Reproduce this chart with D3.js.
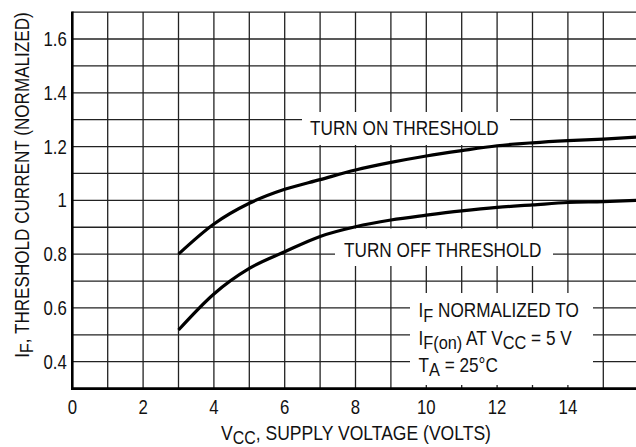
<!DOCTYPE html>
<html><head><meta charset="utf-8">
<script src="https://cdn.jsdelivr.net/npm/d3@7"></script>
<style>
html,body{margin:0;padding:0;background:#fff;}
svg{display:block;}
text{font-family:"Liberation Sans",Arial,Helvetica,sans-serif;fill:#111;}
</style></head>
<body>
<svg id="c" width="636" height="447"></svg>
<script>
// ---- data ----
const vcc     = [3, 4, 5, 6, 7, 8, 9, 10, 11, 12, 13, 14, 15, 16];
const turnOn  = [0.80, 0.912, 0.989, 1.041, 1.077, 1.113, 1.141, 1.165, 1.185, 1.203, 1.214, 1.222, 1.228, 1.236];
const turnOff = [0.518, 0.652, 0.747, 0.809, 0.866, 0.902, 0.927, 0.945, 0.961, 0.974, 0.983, 0.992, 0.995, 1.0];
const xTickLabels = [0, 2, 4, 6, 8, 10, 12, 14];
const yTickLabels = [0.4, 0.6, 0.8, 1.0, 1.2, 1.4, 1.6];
const xGrid = [1,2,3,4,5,6,7,8,9,10,11,12,13,14,15,16];
const yGrid = [0.4,0.5,0.6,0.7,0.8,0.9,1.0,1.1,1.2,1.3,1.4,1.5,1.6,1.7];

const svg = d3.select("#c");
const x = d3.scaleLinear().domain([0, 16]).range([72.3, 638.7]);
const y = d3.scaleLinear().domain([0.3, 1.7]).range([388.6, 12.1]);
const SX = 0.86; // condensed look

function txt(px, py, size, anchor, extra) {
  return svg.append("text")
    .attr("transform", `translate(${px},${py})${extra || ""} scale(${SX},1)`)
    .attr("text-anchor", anchor || "start")
    .attr("font-size", size);
}

const gridColor = "#222";
svg.append("g").selectAll("line").data(xGrid).join("line")
  .attr("x1", d => x(d)).attr("x2", d => x(d))
  .attr("y1", y(1.7)).attr("y2", y(0.3))
  .attr("stroke", gridColor).attr("stroke-width", 1.3);
svg.append("g").selectAll("line").data(yGrid).join("line")
  .attr("x1", x(0)).attr("x2", x(16))
  .attr("y1", d => y(d)).attr("y2", d => y(d))
  .attr("stroke", gridColor).attr("stroke-width", 1.3);

// white label boxes
const boxes = [
  {x0: 302, x1: 510, y0: 112, y1: 145},
  {x0: 335, x1: 553, y0: 228.5, y1: 266},
  {x0: 410, x1: 593, y0: 293, y1: 385}
];
svg.append("g").selectAll("rect").data(boxes).join("rect")
  .attr("x", d => d.x0).attr("y", d => d.y0)
  .attr("width", d => d.x1 - d.x0).attr("height", d => d.y1 - d.y0)
  .attr("fill", "#fff");

// axes lines
svg.append("line").attr("x1", x(0)).attr("x2", x(16)).attr("y1", y(0.3)).attr("y2", y(0.3))
  .attr("stroke", "#000").attr("stroke-width", 2.6);
svg.append("line").attr("x1", x(0)).attr("x2", x(0)).attr("y1", y(1.7) - 0.6).attr("y2", y(0.3) + 1.3)
  .attr("stroke", "#000").attr("stroke-width", 2.6);

// curves
const line = d3.line().x((d, i) => x(vcc[i])).y(d => y(d)).curve(d3.curveMonotoneX);
[turnOn, turnOff].forEach(s => {
  svg.append("path").attr("d", line(s)).attr("fill", "none")
    .attr("stroke", "#000").attr("stroke-width", 3.2);
});

// tick labels
const fs = 19.5;
xTickLabels.forEach(d => txt(x(d), 414, fs, "middle").text(d3.format("")(d)));
yTickLabels.forEach(d => txt(66.8, y(d) + 7, fs, "end").text(d === 1 ? "1" : d3.format(".1f")(d)));

// axis titles
const xt = txt(356, 440, 20.4, "middle");
xt.append("tspan").text("V");
xt.append("tspan").attr("dy", 3.5).attr("font-size", 18.5).text("CC");
xt.append("tspan").attr("dy", -3.5).text(", SUPPLY VOLTAGE (VOLTS)");

const yt = txt(28.5, 185, 19.9, "middle", " rotate(-90)");
yt.append("tspan").text("I");
yt.append("tspan").attr("dy", 4.5).attr("font-size", 18.5).text("F");
yt.append("tspan").attr("dy", -4.5).text(", THRESHOLD CURRENT (NORMALIZED)");

// annotations
const fa = 20;
txt(310, 135, fa).text("TURN ON THRESHOLD");
txt(344, 256.5, fa).text("TURN OFF THRESHOLD");

const n1 = txt(418.5, 317.3, fa);
n1.append("tspan").text("I");
n1.append("tspan").attr("dy", 4.5).attr("font-size", 19).text("F");
n1.append("tspan").attr("dy", -4.5).text(" NORMALIZED TO");
const n2 = txt(418.5, 344.5, fa);
n2.append("tspan").text("I");
n2.append("tspan").attr("dy", 4.5).attr("font-size", 19).text("F(on)");
n2.append("tspan").attr("dy", -4.5).text(" AT V");
n2.append("tspan").attr("dy", 4.5).attr("font-size", 19).text("CC");
n2.append("tspan").attr("dy", -4.5).text(" = 5 V");
const n3 = txt(418.5, 371.5, fa);
n3.append("tspan").text("T");
n3.append("tspan").attr("dy", 4.5).attr("font-size", 19).text("A");
n3.append("tspan").attr("dy", -4.5).text(" = 25°C");
</script>
</body></html>
